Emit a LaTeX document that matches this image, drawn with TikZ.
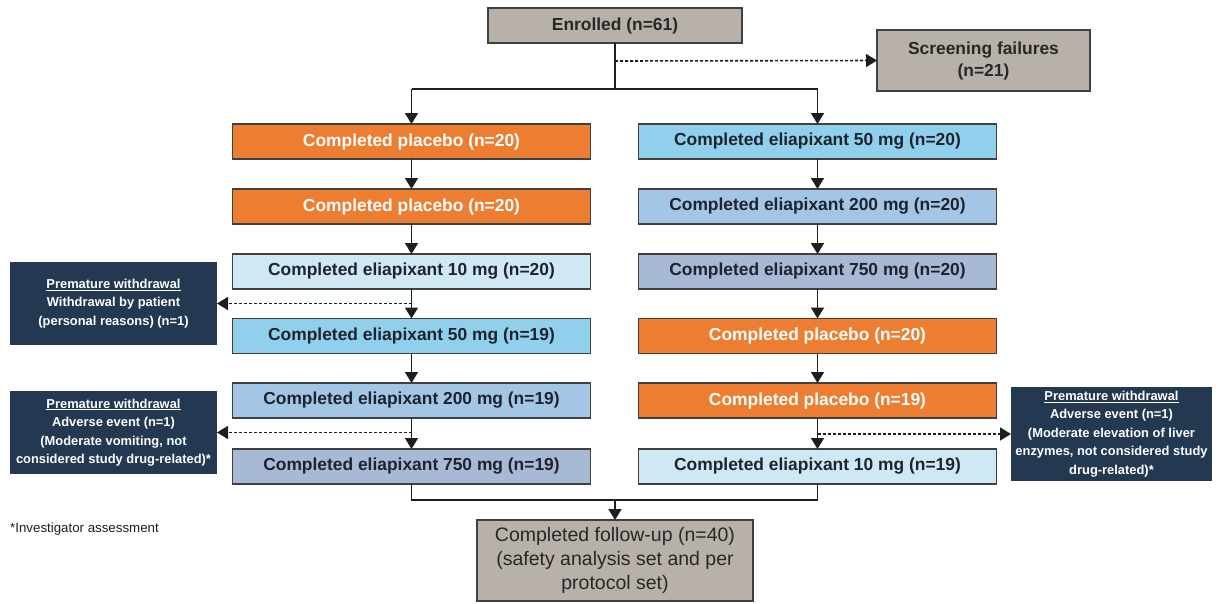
\documentclass[tikz,border=0pt]{standalone}
\usepackage{fontspec}
\setmainfont{Liberation Sans}
\usetikzlibrary{arrows.meta}
\definecolor{greybox}{RGB}{183,177,170}
\definecolor{orangebox}{RGB}{237,125,49}
\definecolor{cyanlight}{RGB}{206,233,243}
\definecolor{sky}{RGB}{145,208,237}
\definecolor{blue200}{RGB}{164,198,230}
\definecolor{blue750}{RGB}{168,185,214}
\definecolor{navy}{RGB}{35,56,81}
\definecolor{bordergrey}{RGB}{64,64,64}
\definecolor{darktext}{RGB}{30,35,45}
\definecolor{linecol}{RGB}{30,30,30}
\tikzset{
  x=1pt, y=-1pt,
  box/.style={draw=bordergrey, line width=1.7pt, inner sep=0pt, outer sep=0pt,
    minimum width=358pt, minimum height=35pt, align=center,
    font=\fontsize{17.4}{20}\selectfont\bfseries, text=darktext},
  orangestyle/.style={box, fill=orangebox, text=white},
  cyanstyle/.style={box, fill=cyanlight},
  skystyle/.style={box, fill=sky},
  b200style/.style={box, fill=blue200},
  b750style/.style={box, fill=blue750},
  greystyle/.style={box, fill=greybox, text={rgb,255:red,40;green,40;blue,40}},
  wbox/.style={fill=navy, draw=none, inner sep=0pt, outer sep=0pt, minimum width=207pt,
    minimum height=83pt, align=center, text=white,
    font=\fontsize{12.9}{18.5}\selectfont\bfseries},
  conn/.style={line width=1.7pt, draw=linecol},
  arr/.style={conn, -{Triangle[length=11pt,width=13pt]}},
  dasharr/.style={line width=1.6pt, draw=linecol,
    dash pattern=on 3pt off 2pt, -{Triangle[length=11pt,width=13pt]}},
}
\begin{document}
\begin{tikzpicture}
\useasboundingbox (0,0) rectangle (1219,603);
\fill[white] (0,0) rectangle (1219,603);

% top
\node[greystyle, minimum width=254pt] (enr) at (615,25.5) {Enrolled (n=61)};
\node[greystyle, minimum width=213pt, minimum height=61pt, font=\fontsize{17.4}{22}\selectfont\bfseries] (scr) at (983.5,60.5) {Screening failures\\(n=21)};

% left column
\node[orangestyle] (L1) at (411.5,141.5) {Completed placebo (n=20)};
\node[orangestyle] (L2) at (411.5,206.5) {Completed placebo (n=20)};
\node[cyanstyle] (L3) at (411.5,271.5) {Completed eliapixant 10 mg (n=20)};
\node[skystyle] (L4) at (411.5,336) {Completed eliapixant 50 mg (n=19)};
\node[b200style] (L5) at (411.5,400.5) {Completed eliapixant 200 mg (n=19)};
\node[b750style] (L6) at (411.5,466.5) {Completed eliapixant 750 mg (n=19)};

% right column
\node[skystyle] (R1) at (817.5,141.5) {Completed eliapixant 50 mg (n=20)};
\node[b200style] (R2) at (817.5,206.5) {Completed eliapixant 200 mg (n=20)};
\node[b750style] (R3) at (817.5,271.5) {Completed eliapixant 750 mg (n=20)};
\node[orangestyle] (R4) at (817.5,336) {Completed placebo (n=20)};
\node[orangestyle] (R5) at (817.5,400.5) {Completed placebo (n=19)};
\node[cyanstyle] (R6) at (817.5,466.5) {Completed eliapixant 10 mg (n=19)};

% withdrawal boxes
\node[wbox] (W1) at (113.5,303.5) {\underline{Premature withdrawal}\\Withdrawal by patient\\(personal reasons) (n=1)};
\node[wbox] (W2) at (113.5,432.5) {\underline{Premature withdrawal}\\Adverse event (n=1)\\(Moderate vomiting, not\\considered study drug-related)*};
\node[wbox, minimum width=201pt, minimum height=94pt] (W3) at (1111.5,434) {\underline{Premature withdrawal}\\Adverse event (n=1)\\(Moderate elevation of liver\\enzymes, not considered study\\drug-related)*};

% follow-up
\node[greystyle, minimum width=276pt, minimum height=81pt, font=\fontsize{19.5}{24}\selectfont] (fu) at (615,560.5) {Completed follow-up (n=40)\\(safety analysis set and per\\protocol set)};

% footnote
\node[anchor=west, inner sep=0pt, font=\fontsize{13.3}{15}\selectfont, text={rgb,255:red,30;green,30;blue,30}] (foot) at (10,529) {*Investigator assessment};

% connectors top
\coordinate (split) at (615,89);
\coordinate (dsplit) at (615,61);
\draw[conn] (enr.south) -- (split);
\draw[dasharr] (dsplit) -- (scr.west);
\draw[conn] (split -| L1.north) -- (split -| R1.north);
\draw[arr] (split -| L1.north) -- (L1.north);
\draw[arr] (split -| R1.north) -- (R1.north);

% column arrows
\foreach \a/\b in {L1/L2,L2/L3,L3/L4,L4/L5,L5/L6,R1/R2,R2/R3,R3/R4,R4/R5,R5/R6}
  \draw[arr] (\a.south) -- (\b.north);

% dashed withdrawal arrows
\draw[dasharr] (L3.south |- W1.east) -- (W1.east);
\draw[dasharr] (L5.south |- W2.east) -- (W2.east);
\draw[dasharr] (R5.south |- W3.west) -- (W3.west);

% merge
\coordinate (merge) at (615,500);
\draw[conn] (L6.south) -- (L6.south |- merge) -- (R6.south |- merge) -- (R6.south);
\draw[arr] (merge) -- (fu.north);
\end{tikzpicture}
\end{document}
